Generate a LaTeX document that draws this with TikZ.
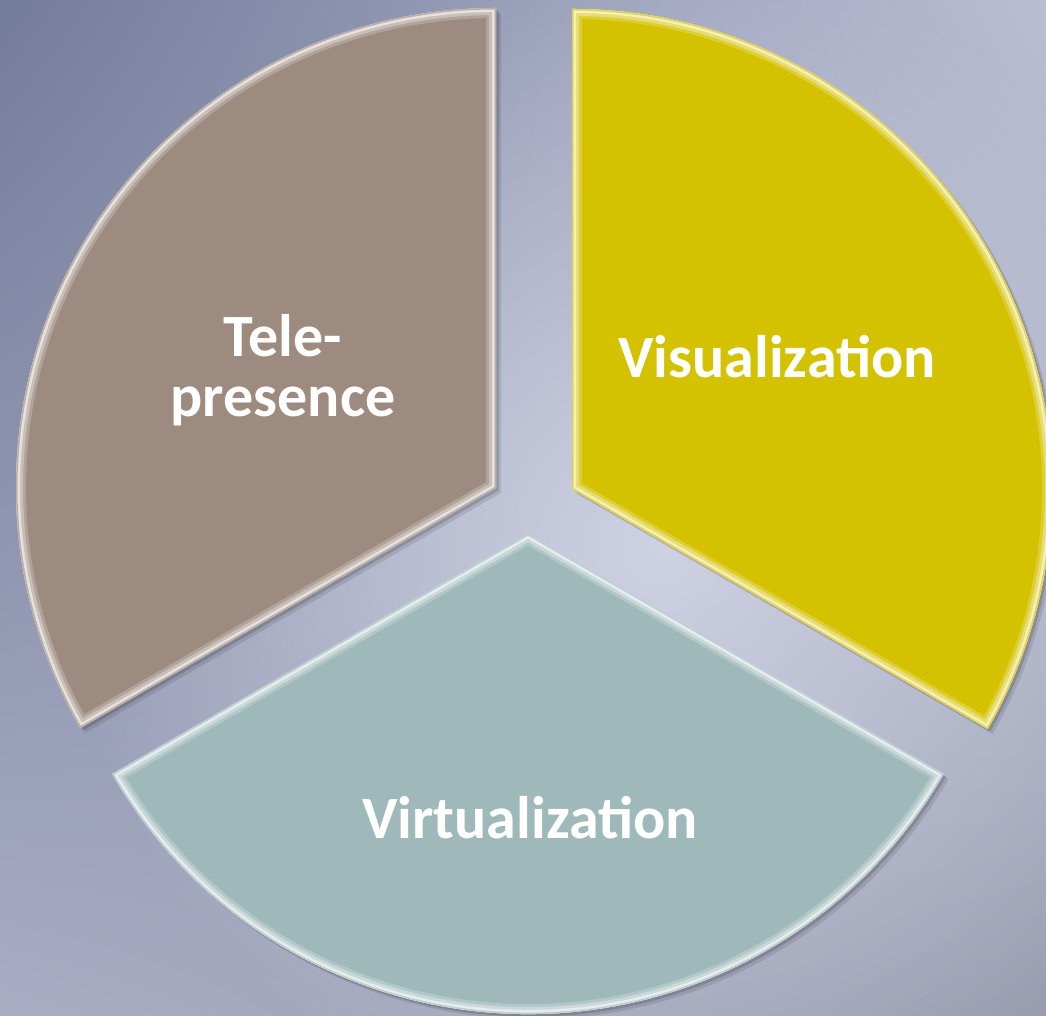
\documentclass[tikz,border=0pt]{standalone}
\usepackage{fontspec}
\setmainfont{Carlito}
\usetikzlibrary{fadings,shadings}
\definecolor{bgUL}{HTML}{747C9B}
\definecolor{bgUR}{HTML}{B9BED3}
\definecolor{bgLL}{HTML}{A8ADC4}
\definecolor{bgLR}{HTML}{979CAF}
\definecolor{bgC}{HTML}{CFD2E3}
\definecolor{cbrown}{HTML}{9D8B80}
\definecolor{cyellow}{HTML}{D4C100}
\definecolor{cgreen}{HTML}{9FB9BA}
\tikzfading[name=glowfade, inner color=transparent!0, outer color=transparent!100]
\tikzset{
  brownsec/.style={insert path={(496,528) -- ++(90:480) arc[start angle=90,end angle=210,radius=480] -- cycle}},
  yellowsec/.style={insert path={(572,527) -- ++(90:480) arc[start angle=90,end angle=-30,radius=480] -- cycle}},
  greensec/.style={insert path={(528,482) -- ++(210:480) arc[start angle=210,end angle=330,radius=480] -- cycle}},
  lbl/.style={text=white, align=center, font=\fontsize{60}{60}\selectfont\bfseries, inner sep=0pt}
}
\begin{document}
\begin{tikzpicture}[x=1pt,y=1pt]
\useasboundingbox (0,0) rectangle (1046,1016);
\clip (0,0) rectangle (1046,1016);
% background
\shade[upper left=bgUL, upper right=bgUR, lower left=bgLL, lower right=bgLR] (0,0) rectangle (1046,1016);
\fill[bgC, path fading=glowfade] (660,470) circle (600);
% sectors
\foreach \s/\c in {brownsec/cbrown, yellowsec/cyellow, greensec/cgreen}{
  \fill[black, opacity=0.10, shift={(5,-5)}, \s];
  \fill[black, opacity=0.15, shift={(2.5,-2.5)}, \s];
  \begin{scope}
    \clip[\s];
    \fill[\c, \s];
    \draw[\c!80!white, line width=20, line join=round, \s];
    \draw[\c!55!white, line width=14, line join=round, \s];
    \draw[\c!25!white, line width=8, line join=round, \s];
    \draw[\c!70!white, line width=3, line join=round, \s];
  \end{scope}
}
% labels
\node[lbl] (tele) at (283,646) {Tele-\\presence};
\node[lbl] (visu) at (777,659) {Visualization};
\node[lbl] (virt) at (530,198) {Virtualization};
\end{tikzpicture}
\end{document}
